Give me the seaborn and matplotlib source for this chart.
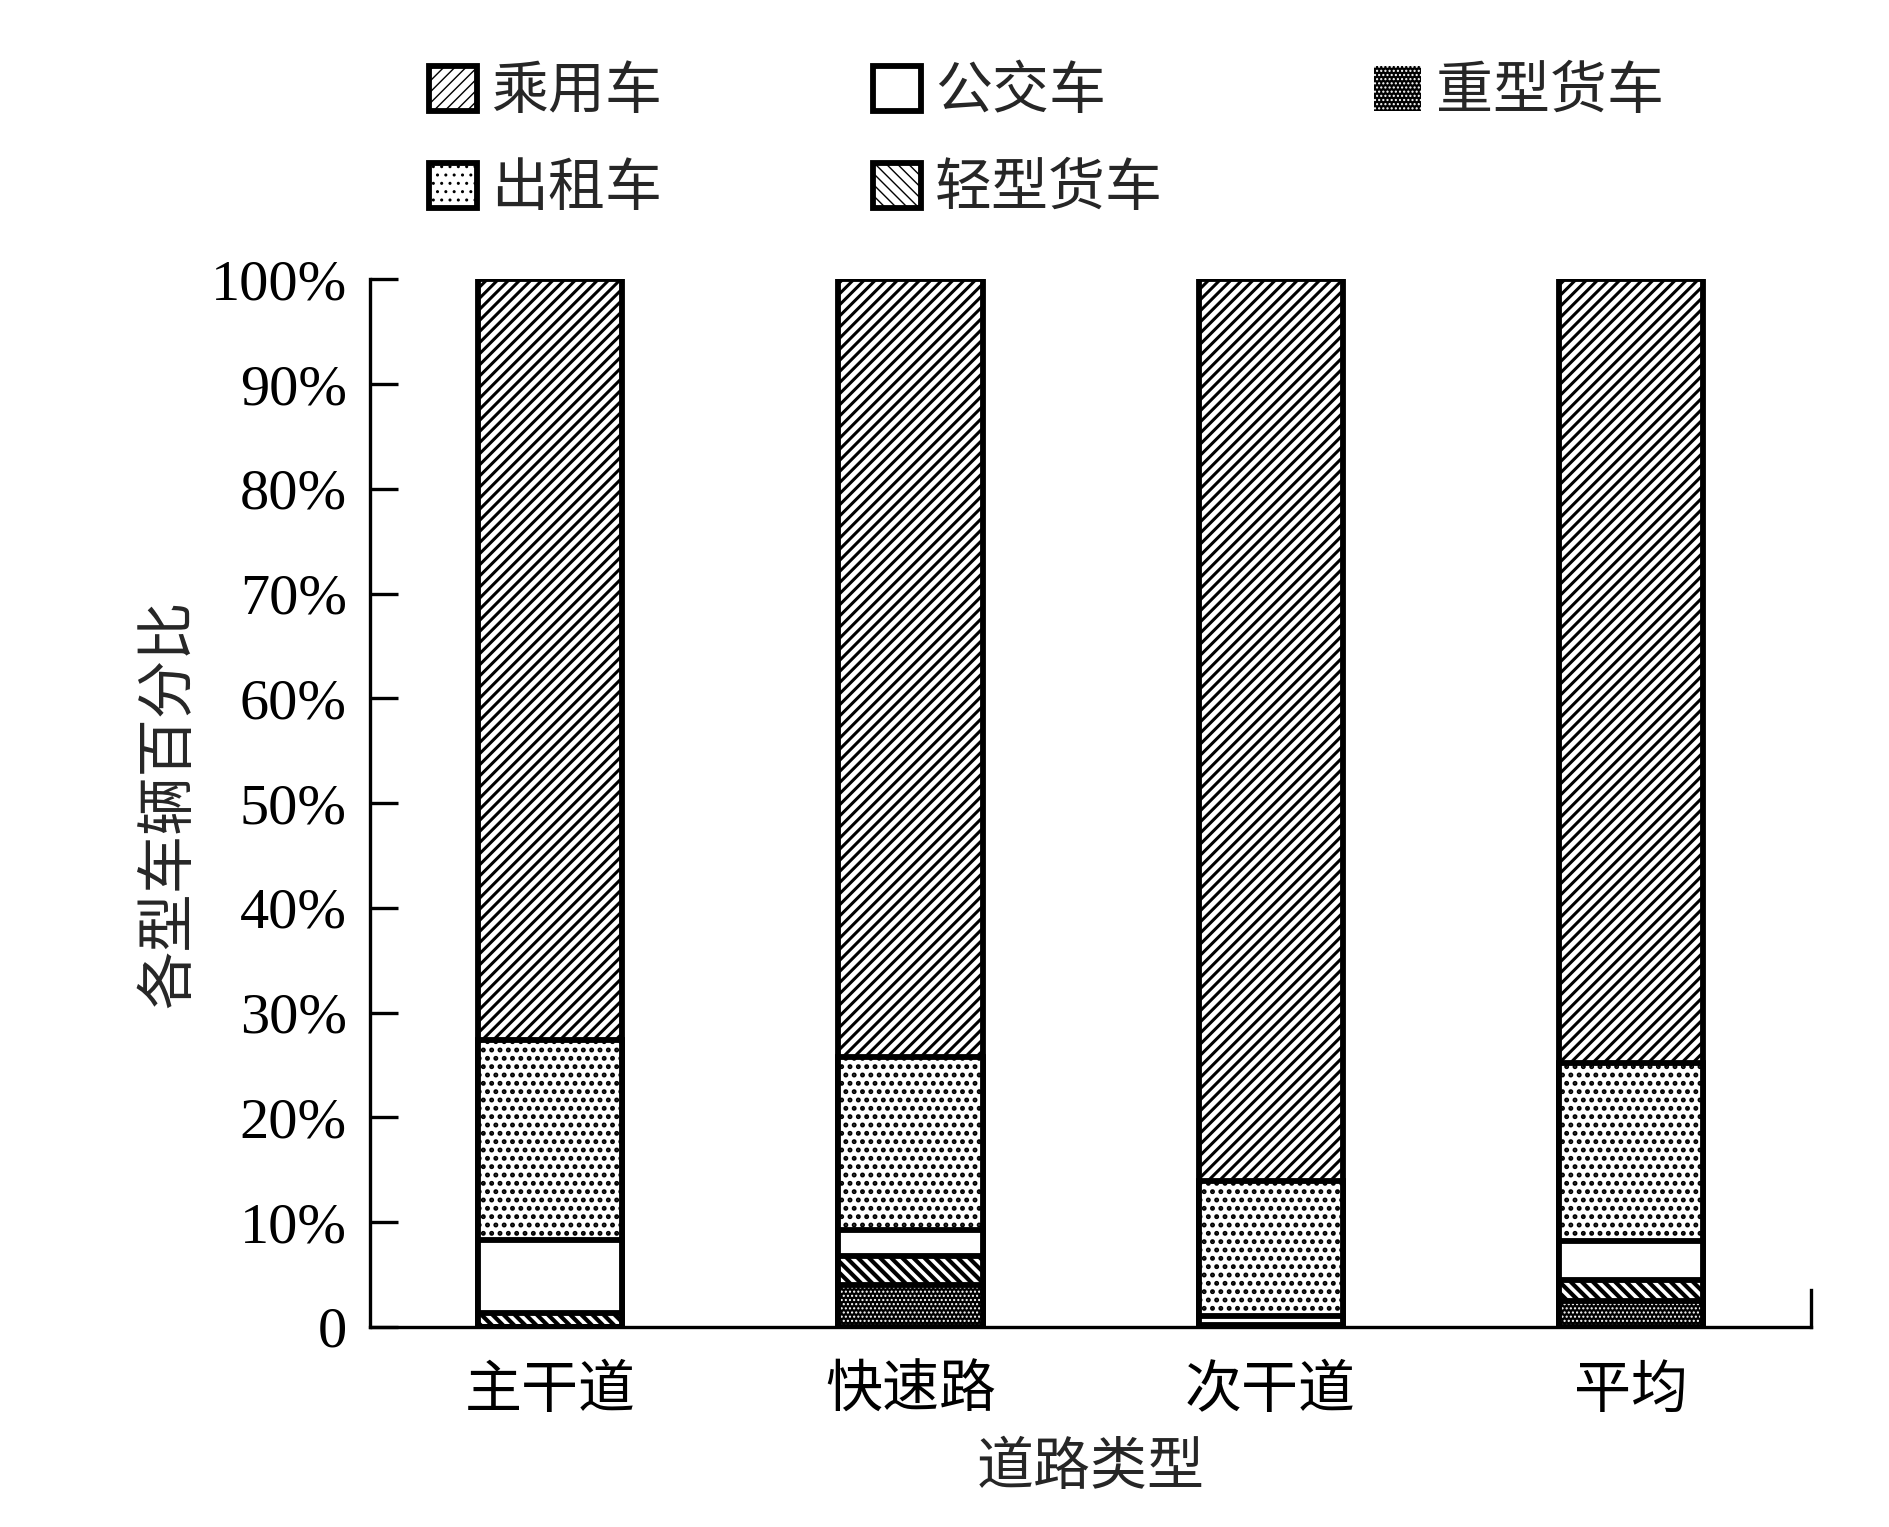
import matplotlib.pyplot as plt
import numpy as np
import seaborn as sns
from matplotlib.patches import Patch

# %% Data (percent of vehicles per road type)
roads = ["主干道", "快速路", "次干道", "平均"]
heavy_truck = [0.0, 4.0, 0.0, 2.5]
light_truck = [1.3, 2.8, 0.2, 2.0]
bus = [7.0, 2.5, 0.8, 3.7]
taxi = [19.1, 16.5, 12.9, 17.0]
passenger_car = [72.6, 74.2, 86.1, 74.8]

names = ["乘用车", "出租车", "公交车", "轻型货车", "重型货车"]
y_ticks = [0, 10, 20, 30, 40, 50, 60, 70, 80, 90, 100]
y_tick_labels = ["0"] + [f"{v}%" for v in y_ticks[1:]]

# %% Styles
EDGE_LW = 4.2
STYLES = {
    "乘用车": dict(face="white", hatch="///", hlw=2.2),
    "出租车": dict(face="white", hatch="..", hlw=2.3),
    "公交车": dict(face="white", hatch="", hlw=1.0),
    "轻型货车": dict(face="white", hatch="\\\\\\", hlw=3.0),
    "重型货车": dict(face="black", hatch="....", hlw=1.0),
}

sns.set_theme(style="ticks")
plt.rcParams["font.family"] = ["Liberation Serif", "Noto Sans CJK SC"]
plt.rcParams["hatch.color"] = "black"

fig = plt.figure(figsize=(18.9, 15.27), dpi=100)
ax = fig.add_axes([0.196, 0.131, 0.762, 0.686])

# cumulative tops, bottom layer first
stack = np.array([heavy_truck, light_truck, bus, taxi, passenger_car])
tops = np.cumsum(stack, axis=0)
layer_names = ["重型货车", "轻型货车", "公交车", "出租车", "乘用车"]

# draw tallest first so the lower layers sit on top
for i in range(len(layer_names) - 1, -1, -1):
    name = layer_names[i]
    st = STYLES[name]
    plt.rcParams["hatch.linewidth"] = st["hlw"]
    if name == "重型货车":
        sns.barplot(x=roads, y=tops[i], order=roads, width=0.4, color="black",
                    saturation=1, edgecolor="white", linewidth=0, hatch=st["hatch"],
                    errorbar=None, ax=ax)
        sns.barplot(x=roads, y=tops[i], order=roads, width=0.4, color="black",
                    saturation=1, fill=False, linewidth=EDGE_LW,
                    errorbar=None, ax=ax)
    else:
        sns.barplot(x=roads, y=tops[i], order=roads, width=0.4, color=st["face"],
                    saturation=1, edgecolor="black", linewidth=EDGE_LW,
                    hatch=st["hatch"], errorbar=None, ax=ax)

ax.set_xlim(-0.5, 3.5)
ax.set_ylim(0, 100)
ax.set_yticks(y_ticks)
ax.set_yticklabels(y_tick_labels)
ax.tick_params(axis="y", direction="in", length=20, width=2.4, labelsize=42,
               pad=17, colors="black")
ax.tick_params(axis="x", length=0, labelsize=41, pad=25, colors="black")
for lab in ax.get_xticklabels():
    lab.set_family(["Noto Sans CJK SC"])

ax.spines["top"].set_visible(False)
for s in ["left", "bottom", "right"]:
    ax.spines[s].set_linewidth(2.4)
    ax.spines[s].set_color("black")
ax.spines["right"].set_bounds(0, 3.5)

ax.set_xlabel("道路类型", fontsize=41, family=["Noto Sans CJK SC"], labelpad=13)
ax.set_ylabel("各型车辆百分比", fontsize=42, family=["Noto Sans CJK SC"], labelpad=8)

# %% Legend
handles = []
for name in names:
    st = STYLES[name]
    plt.rcParams["hatch.linewidth"] = st["hlw"]
    if name == "重型货车":
        handles.append(Patch(facecolor="black", edgecolor="white", lw=0,
                             hatch=st["hatch"], label=name))
    else:
        handles.append(Patch(facecolor=st["face"], edgecolor="black", lw=EDGE_LW,
                             hatch=st["hatch"], label=name))

fig.legend(handles=handles, loc="upper left", bbox_to_anchor=(0.227, 0.959),
           ncol=3, frameon=False, borderpad=0, borderaxespad=0,
           prop={"family": ["Noto Sans CJK SC"], "size": 41},
           handlelength=0.84, handleheight=0.84, handletextpad=0.25,
           columnspacing=3.7, labelspacing=0.67)

fig.savefig("out.png", dpi=100, facecolor="white")
